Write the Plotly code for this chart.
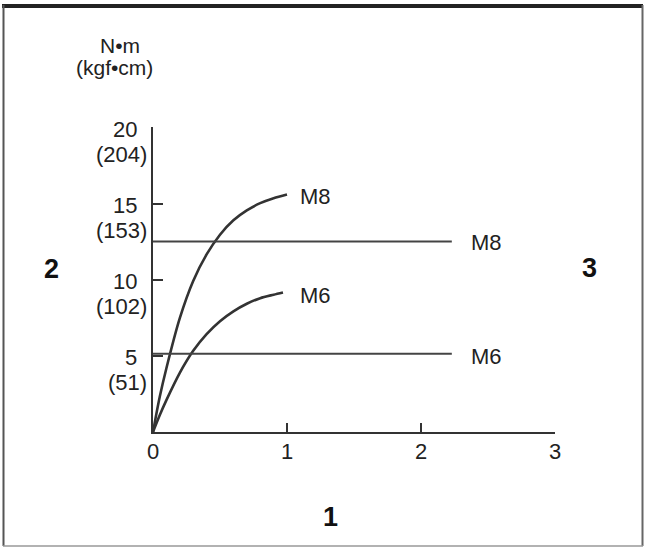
import plotly.graph_objects as go

# ---- data ----
m8_curve_x = [0.0, 0.05, 0.1, 0.2, 0.3, 0.4, 0.5, 0.6, 0.7, 0.8, 0.9, 1.0]
m8_curve_y = [0.0, 2.3, 4.2, 7.5, 9.95, 11.7, 13.0, 13.95, 14.6, 15.08, 15.41, 15.65]
m6_curve_x = [0.0, 0.05, 0.1, 0.2, 0.3, 0.4, 0.5, 0.6, 0.7, 0.8, 0.9, 0.97]
m6_curve_y = [0.0, 1.1, 2.1, 3.9, 5.35, 6.45, 7.3, 7.95, 8.45, 8.82, 9.05, 9.2]
m8_limit_x = [0.0, 2.23]
m8_limit_y = [12.55, 12.55]
m6_limit_x = [0.0, 2.23]
m6_limit_y = [5.15, 5.15]

x_ticks = [0, 1, 2, 3]
y_ticks = [5, 10, 15]
y_label_vals = [5, 10, 15, 20]
y_label_nm = ["5", "10", "15", "20"]
y_label_kgf = ["(51)", "(102)", "(153)", "(204)"]

W, H = 645, 548
ML, MR, MT, MB = 153, 90, 127, 116
XR = [0, 3]
YR = [0, 20.1]

FONT = "Liberation Sans, Arial, sans-serif"
LINE = "#333333"

fig = go.Figure()
for xs, ys in [(m8_curve_x, m8_curve_y), (m6_curve_x, m6_curve_y)]:
    fig.add_trace(go.Scatter(x=xs, y=ys, mode="lines",
                             line=dict(color=LINE, width=2.6, shape="spline", smoothing=0.8),
                             hoverinfo="skip"))
for xs, ys in [(m8_limit_x, m8_limit_y), (m6_limit_x, m6_limit_y)]:
    fig.add_trace(go.Scatter(x=xs, y=ys, mode="lines",
                             line=dict(color="#444444", width=2), hoverinfo="skip"))

ann = []
tf = dict(family=FONT, size=22, color="#222222")
# curve-end labels
ann.append(dict(x=m8_curve_x[-1], y=m8_curve_y[-1], text="M8", xanchor="left", yanchor="middle",
                xshift=11, yshift=-2, showarrow=False, font=tf))
ann.append(dict(x=m6_curve_x[-1], y=m6_curve_y[-1], text="M6", xanchor="left", yanchor="middle",
                xshift=15, yshift=-3, showarrow=False, font=tf))
ann.append(dict(x=m8_limit_x[-1], y=m8_limit_y[-1], text="M8", xanchor="left", yanchor="middle",
                xshift=17, yshift=-1, showarrow=False, font=tf))
ann.append(dict(x=m6_limit_x[-1], y=m6_limit_y[-1], text="M6", xanchor="left", yanchor="middle",
                xshift=17, yshift=-3, showarrow=False, font=tf))
# y tick labels (two lines)
for v, a, b in zip(y_label_vals, y_label_nm, y_label_kgf):
    ann.append(dict(x=0, y=v, text=a, xanchor="right", yanchor="middle", xshift=-14, yshift=-1,
                    showarrow=False, font=tf))
    ann.append(dict(x=0, y=v, text=b, xanchor="right", yanchor="middle", xshift=-4, yshift=-26,
                    showarrow=False, font=tf))
# x tick labels
for v in x_ticks:
    ann.append(dict(x=v, y=0, text=str(v), xanchor="center", yanchor="top", yshift=-5,
                    showarrow=False, font=tf))
pw, ph = W - ML - MR, H - MT - MB

def rx(px):
    return (px - ML) / pw

def ry(py):
    return (H - MB - py) / ph

# unit label
uf = dict(family=FONT, size=21, color="#222222")
ann.append(dict(xref="paper", yref="paper", x=rx(120), y=ry(46),
                text="N•m", xanchor="center", yanchor="middle", showarrow=False, font=uf))
ann.append(dict(xref="paper", yref="paper", x=rx(114), y=ry(67),
                text="(kgf•cm)", xanchor="center", yanchor="middle", showarrow=False, font=uf))
# callout numbers
bf = dict(family=FONT, size=27, color="#111111")
for txt, px, py in [("2", 52, 269), ("3", 589, 268), ("1", 330, 517)]:
    ann.append(dict(xref="paper", yref="paper", x=rx(px), y=ry(py),
                    text="<b>" + txt + "</b>", xanchor="center", yanchor="middle",
                    showarrow=False, font=bf))

# frame around the image
shapes = [
    dict(type="line", xref="paper", yref="paper", x0=rx(2), x1=rx(643), y0=ry(6), y1=ry(6),
         line=dict(color="#222222", width=4)),
    dict(type="line", xref="paper", yref="paper", x0=rx(3.5), x1=rx(3.5), y0=ry(5), y1=ry(546),
         line=dict(color="#555555", width=2)),
    dict(type="line", xref="paper", yref="paper", x0=rx(642.5), x1=rx(642.5), y0=ry(5), y1=ry(546),
         line=dict(color="#666666", width=2)),
    dict(type="line", xref="paper", yref="paper", x0=rx(3), x1=rx(643), y0=ry(546), y1=ry(546),
         line=dict(color="#999999", width=1.5)),
]

fig.update_layout(
    width=W, height=H,
    margin=dict(l=ML, r=MR, t=MT, b=MB, pad=0),
    paper_bgcolor="white", plot_bgcolor="white",
    showlegend=False,
    annotations=ann, shapes=shapes,
    xaxis=dict(range=XR, showgrid=False, zeroline=False, showline=True, linecolor=LINE, linewidth=2,
               tickvals=[1, 2], ticks="inside", ticklen=9, tickwidth=1.5, tickcolor=LINE,
               showticklabels=False, fixedrange=True),
    yaxis=dict(range=YR, showgrid=False, zeroline=False, showline=True, linecolor=LINE, linewidth=2,
               tickvals=y_ticks, ticks="inside", ticklen=10, tickwidth=1.5, tickcolor=LINE,
               showticklabels=False, fixedrange=True),
)

fig.write_html("out.html", config={"displayModeBar": False})
